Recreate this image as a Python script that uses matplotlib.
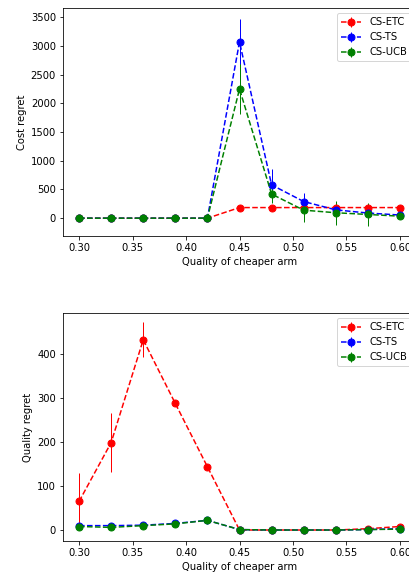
import matplotlib
matplotlib.use("Agg")
import matplotlib.pyplot as plt
import numpy as np

x = [0.30, 0.33, 0.36, 0.39, 0.42, 0.45, 0.48, 0.51, 0.54, 0.57, 0.60]
labels = ["CS-ETC", "CS-TS", "CS-UCB"]
colors = ["red", "blue", "green"]

cost_etc = [0, 0, 0, 0, 0, 185, 185, 185, 185, 185, 185]
cost_etc_err = [0, 0, 0, 0, 0, 10, 10, 10, 10, 10, 10]
cost_ts = [0, 0, 0, 0, 0, 3070, 580, 290, 145, 90, 55]
cost_ts_err = [0, 0, 0, 0, 0, 400, 280, 155, 60, 40, 30]
cost_ucb = [0, 0, 0, 0, 0, 2250, 420, 140, 95, 65, 35]
cost_ucb_err = [0, 0, 0, 0, 0, 440, 150, 200, 210, 200, 40]

qual_etc = [65, 199, 433, 288, 144, 0, 0, 0, 0, 3, 8]
qual_etc_err = [65, 67, 40, 5, 5, 0, 0, 0, 0, 2, 3]
qual_ts = [10, 10, 11, 15, 22, 1, 0, 0, 0, 1, 3]
qual_ts_err = [2, 2, 2, 3, 4, 1, 0, 0, 0, 1, 1]
qual_ucb = [8, 6, 10, 14, 22, 1, 0, 0, 0, 1, 2]
qual_ucb_err = [2, 2, 2, 3, 8, 1, 0, 0, 0, 1, 1]

W, H, DPI = 409, 573, 72
fig = plt.figure(figsize=(W / DPI, H / DPI), dpi=DPI)
plt.rcParams['font.size'] = 10

left = 63 / W
right = 416 / W
ax1 = fig.add_axes([left, 1 - 236 / H, right - left, (236 - 8) / H])
ax2 = fig.add_axes([left, 1 - 541 / H, right - left, (541 - 313) / H])

for ax, series, ylab, ylim in [
    (ax1, [(cost_etc, cost_etc_err), (cost_ts, cost_ts_err), (cost_ucb, cost_ucb_err)], "Cost regret", (-310, 3660)),
    (ax2, [(qual_etc, qual_etc_err), (qual_ts, qual_ts_err), (qual_ucb, qual_ucb_err)], "Quality regret", (-25, 494)),
]:
    for (vals, errs), lab, c in zip(series, labels, colors):
        ax.errorbar(x, vals, yerr=errs, fmt='o--', color=c, label=lab, markersize=7, linewidth=1.5, elinewidth=1)
    ax.set_xlim(0.285, 0.615)
    ax.set_ylim(*ylim)
    ax.set_xticks([0.30, 0.35, 0.40, 0.45, 0.50, 0.55, 0.60])
    ax.set_xlabel("Quality of cheaper arm")
    ax.set_ylabel(ylab)
    ax.legend(loc="upper right")

ax1.set_yticks([0, 500, 1000, 1500, 2000, 2500, 3000, 3500])
ax2.set_yticks([0, 100, 200, 300, 400])

fig.savefig("out.png", dpi=DPI)
